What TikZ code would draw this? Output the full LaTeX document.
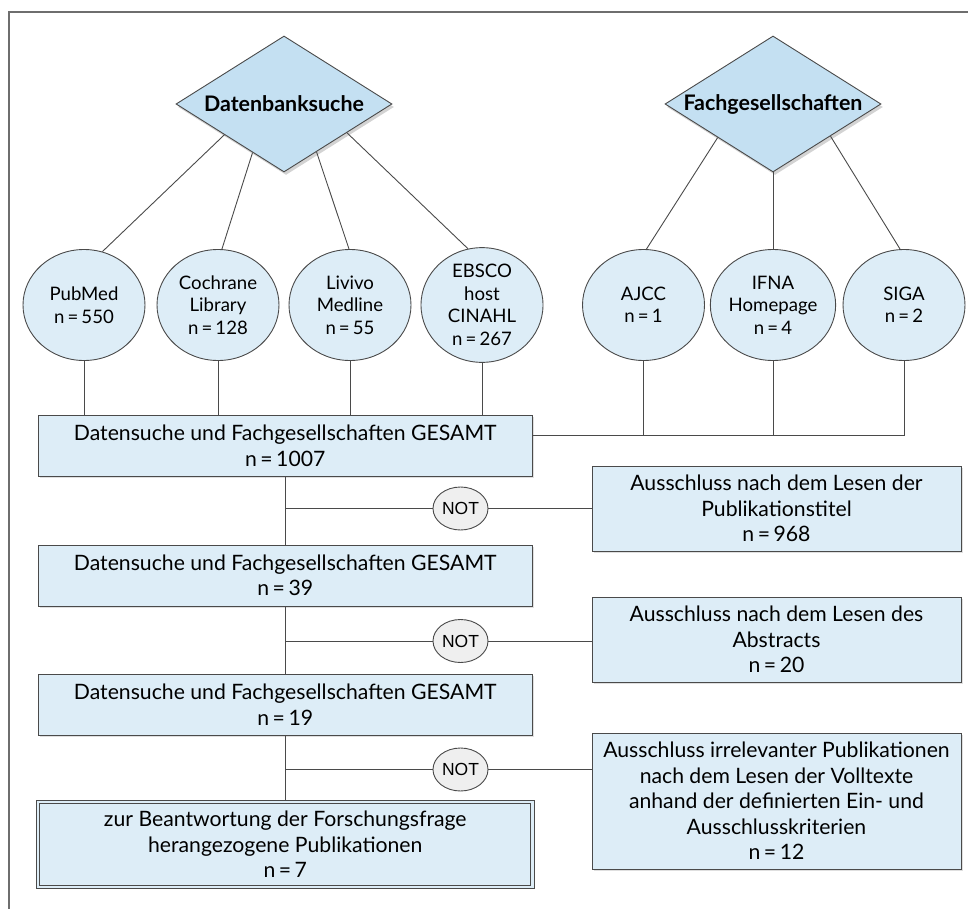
\documentclass[tikz,border=0pt]{standalone}
\usepackage{fontspec}
\setmainfont{Lato}
\newfontfamily\notfont{Liberation Sans}
\usetikzlibrary{shapes.geometric,shadows,calc}
\definecolor{linec}{HTML}{4A4A4A}
\definecolor{boxfill}{HTML}{DDEDF7}
\definecolor{diafill}{HTML}{C4E0F2}
\definecolor{notfill}{HTML}{EFEFEF}
\definecolor{framec}{HTML}{6E6E6E}
\tikzset{
  every picture/.style={x=1pt,y=-1pt},
  conn/.style={draw=linec,line width=0.9pt},
  dia/.style={shape=diamond,draw=linec,line width=0.9pt,fill=diafill,inner sep=0pt,
    minimum width=216pt,minimum height=136pt,
    drop shadow={opacity=0.35,shadow xshift=2pt,shadow yshift=-3pt},
    font=\fontsize{21.4}{24}\selectfont\bfseries},
  src/.style={shape=ellipse,draw=linec,line width=0.9pt,fill=boxfill,inner sep=0pt,
    minimum width=122pt,minimum height=111pt,align=center,
    font=\fontsize{18.6}{22.5}\selectfont},
  mainbox/.style={shape=rectangle,draw=linec,line width=1pt,fill=boxfill,inner sep=0pt,
    minimum width=493.5pt,minimum height=61pt,align=center,
    drop shadow={opacity=0.25,shadow xshift=1.5pt,shadow yshift=-1.5pt},
    font=\fontsize{21.2}{25.5}\selectfont},
  exbox/.style={shape=rectangle,draw=linec,line width=1pt,fill=boxfill,inner sep=0pt,
    minimum width=369pt,align=center,
    drop shadow={opacity=0.25,shadow xshift=1.5pt,shadow yshift=-1.5pt},
    font=\fontsize{21.2}{25.5}\selectfont},
  notnode/.style={shape=ellipse,draw=linec,line width=0.9pt,fill=notfill,inner sep=0pt,
    minimum width=55pt,minimum height=43pt,font=\notfont\fontsize{17.5}{20}\selectfont},
}
\begin{document}
\begin{tikzpicture}
\useasboundingbox (0,0) rectangle (968,909);
% frame
\draw[draw=framec,line width=1.6pt] (9,909) -- (9,12) -- (968,12);

% diamonds
\node[dia] (db) at (284,104) {\makebox[0pt]{Datenbanksuche}};
\node[dia] (fg) at (773,104) {\makebox[0pt]{Fachgesellschaften}};

% sources
\node[src] (pub) at (84,305) {PubMed\\n\,=\,550};
\node[src] (coch) at (218,305) {Cochrane\\Library\\n\,=\,128};
\node[src] (liv) at (350,305) {Livivo\\Medline\\n\,=\,55};
\node[src] (ebs) at (482,305) {EBSCO\\host\\CINAHL\\n\,=\,267};
\node[src] (ajcc) at (643.5,305) {AJCC\\n\,=\,1};
\node[src] (ifna) at (773,305) {IFNA\\Homepage\\n\,=\,4};
\node[src] (siga) at (904,305) {SIGA\\n\,=\,2};

% connectors diamond -> sources
\draw[conn] ($(db.west)!0.45!(db.south)$) -- (pub.71);
\draw[conn] ($(db.west)!0.71!(db.south)$) -- (coch.86);
\draw[conn] ($(db.south)!0.30!(db.east)$) -- (liv.91);
\draw[conn] ($(db.south)!0.58!(db.east)$) -- (ebs.104);
\draw[conn] ($(fg.west)!0.49!(fg.south)$) -- (ajcc.87);
\draw[conn] (fg.south) -- (ifna.north);
\draw[conn] ($(fg.south)!0.53!(fg.east)$) -- (siga.94);

% main boxes
\node[mainbox] (b1) at (285.25,446) {Datensuche und Fachgesellschaften GESAMT\\n\,=\,1007};
\node[mainbox] (b2) at (285.25,575.5) {Datensuche und Fachgesellschaften GESAMT\\n\,=\,39};
\node[mainbox] (b3) at (285.25,704.5) {Datensuche und Fachgesellschaften GESAMT\\n\,=\,19};
\node[mainbox,double=boxfill,double distance=2.6pt,line width=1.1pt,minimum height=85pt,minimum width=494.5pt] (b4) at (285.25,844.5)
  {zur Beantwortung der Forschungsfrage\\herangezogene Publikationen\\n\,=\,7};

% sources -> box 1
\draw[conn] (pub.south) -- (pub.south |- b1.north);
\draw[conn] (coch.south) -- (coch.south |- b1.north);
\draw[conn] (liv.south) -- (liv.south |- b1.north);
\draw[conn] (ebs.south) -- (ebs.south |- b1.north);
\coordinate (hj) at ($(b1.east)+(0,-10.3)$);
\draw[conn] (hj) -| (siga.south);
\draw[conn] (ajcc.south) -- (ajcc.south |- hj);
\draw[conn] (ifna.south) -- (ifna.south |- hj);

% exclusion boxes
\node[exbox,minimum height=85pt] (r1) at (776.5,508.5) {Ausschluss nach dem Lesen der\\Publikationstitel\\n\,=\,968};
\node[exbox,minimum height=85pt] (r2) at (776.5,639.5) {Ausschluss nach dem Lesen des\\Abstracts\\n\,=\,20};
\node[exbox,minimum height=136pt] (r3) at (776.5,801) {Ausschluss irrelevanter Publikationen\\nach dem Lesen der Volltexte\\anhand der definierten Ein- und\\Ausschlusskriterien\\n\,=\,12};

% NOT nodes
\node[notnode] (n1) at (460.5,508.5) {NOT};
\node[notnode] (n2) at (460.5,641) {NOT};
\node[notnode] (n3) at (460.5,769.5) {NOT};

% trunk
\draw[conn] (b1.south) -- (b2.north);
\draw[conn] (b2.south) -- (b3.north);
\draw[conn] (b3.south) -- (b4.north);
\draw[conn] (b1.south |- n1) -- (n1.west);
\draw[conn] (n1.east) -- (n1 -| r1.west);
\draw[conn] (b2.south |- n2) -- (n2.west);
\draw[conn] (n2.east) -- (n2 -| r2.west);
\draw[conn] (b3.south |- n3) -- (n3.west);
\draw[conn] (n3.east) -- (n3 -| r3.west);
\end{tikzpicture}
\end{document}
